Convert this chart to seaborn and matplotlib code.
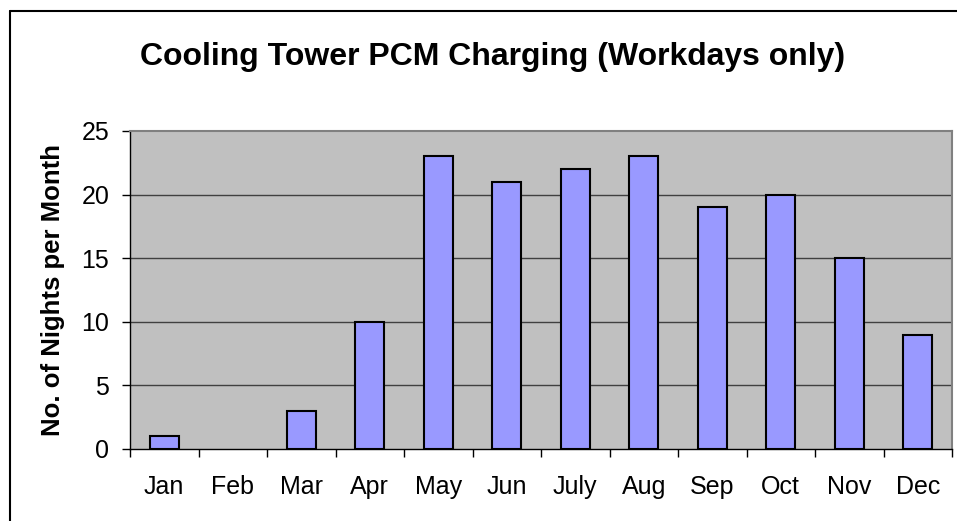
import numpy as np
import pandas as pd
import seaborn as sns
import matplotlib.pyplot as plt
from matplotlib.lines import Line2D

months = ['Jan', 'Feb', 'Mar', 'Apr', 'May', 'Jun', 'July', 'Aug', 'Sep', 'Oct', 'Nov', 'Dec']
nights = [1, 0, 3, 10, 23, 21, 22, 23, 19, 20, 15, 9]

sns.set_style('white')
plt.rcParams['font.family'] = ['Liberation Sans', 'DejaVu Sans']
plt.rcParams['text.color'] = 'black'
plt.rcParams['xtick.color'] = 'black'
plt.rcParams['ytick.color'] = 'black'
plt.rcParams['axes.labelcolor'] = 'black'

df = pd.DataFrame({'month': months, 'nights': nights})

fig = plt.figure(figsize=(9.57, 5.21), dpi=100)
ax = fig.add_axes([130/957, 1-449/521, 822/957, 318/521])
ax.set_facecolor('#C0C0C0')

sns.barplot(data=df, x='month', y='nights', color='#9999FF', saturation=1,
            edgecolor='black', linewidth=1.5, width=0.43, ax=ax, zorder=3)
# zero bars draw nothing in the original
for p in ax.patches:
    if p.get_height() == 0:
        p.set_linewidth(0)

ax.set_xlim(-0.5, 11.5)
ax.set_ylim(0, 25)
ax.set_yticks(range(0, 26, 5))
for y in range(5, 25, 5):
    ax.axhline(y, color='#404040', lw=1, zorder=1)

# category ticks at boundaries, labels centred
ax.set_xticks(np.arange(-0.5, 12, 1))
ax.set_xticklabels([])
ax.set_xticks(range(12), minor=True)
ax.set_xticklabels(months, minor=True)
ax.tick_params(axis='x', which='major', direction='out', length=6, width=1, bottom=True)
ax.tick_params(axis='x', which='minor', length=0, labelsize=18, pad=19)
ax.tick_params(axis='y', direction='out', length=6, width=1, left=True, labelsize=18, pad=9)

ax.set_xlabel('')
ax.set_ylabel('No. of Nights per Month', fontsize=18.5, fontweight='bold', labelpad=12)

for s in ['top', 'right']:
    ax.spines[s].set_color('#808080')
    ax.spines[s].set_linewidth(1.5)
for s in ['left', 'bottom']:
    ax.spines[s].set_color('black')
    ax.spines[s].set_linewidth(1)

fig.text(0.515, 1-57/521, 'Cooling Tower PCM Charging (Workdays only)',
         ha='center', va='center', fontsize=23, fontweight='bold')

# outer chart border (top and left visible)
fig.add_artist(Line2D([10/957, 1], [1-11/521, 1-11/521], color='black', lw=1.5, transform=fig.transFigure))
fig.add_artist(Line2D([10/957, 10/957], [0, 1-11/521], color='black', lw=1.5, transform=fig.transFigure))

fig.savefig('out.png', dpi=100)
